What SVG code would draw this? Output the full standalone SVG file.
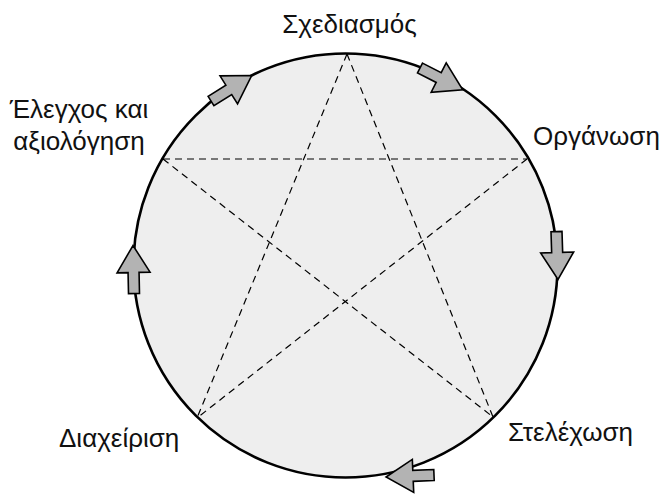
<svg xmlns="http://www.w3.org/2000/svg" width="659" height="494" viewBox="0 0 659 494">
<style>
.lbl{font-family:"Liberation Sans",Arial,sans-serif;font-size:26px;fill:#111}
.dash{stroke:#000;stroke-width:1.2;stroke-dasharray:7 5;fill:none}
.arr{fill:#b3b3b3;stroke:#000;stroke-width:1.6;stroke-linejoin:miter}
</style>
<defs>
<polygon id="ar" points="0,-5.5 21,-5.5 21,-16.5 48,0 21,16.5 21,5.5 0,5.5"/>
</defs>
<rect width="659" height="494" fill="#fff"/>
<g id="cycle">
<circle cx="345.5" cy="265.5" r="212" fill="#eeeeee" stroke="#000" stroke-width="2.6"/>
</g>
<g id="connectors">
<line class="dash" x1="347" y1="54" x2="197" y2="418"/>
<line class="dash" x1="347" y1="54" x2="493" y2="417"/>
<line class="dash" x1="163" y1="159" x2="527" y2="159"/>
<line class="dash" x1="163" y1="159" x2="493" y2="417"/>
<line class="dash" x1="527" y1="159" x2="197" y2="418"/>
<use href="#ar" class="arr" transform="translate(420,68) rotate(27.1)"/>
<use href="#ar" class="arr" transform="translate(556.5,231.5) rotate(88.2)"/>
<use href="#ar" class="arr" transform="translate(434,475) rotate(177.6)"/>
<use href="#ar" class="arr" transform="translate(134,293.5) rotate(-91.2)"/>
<use href="#ar" class="arr" transform="translate(211,101) rotate(-32.1)"/>
</g>
<g id="n-planning"><text class="lbl" x="349.5" y="33" text-anchor="middle">Σχεδιασμός</text></g>
<g id="n-organizing"><text class="lbl" x="533" y="145">Οργάνωση</text></g>
<g id="n-staffing"><text class="lbl" x="508" y="441">Στελέχωση</text></g>
<g id="n-directing"><text class="lbl" x="59" y="447">Διαχείριση</text></g>
<g id="n-controlling"><text class="lbl" x="79" y="118" text-anchor="middle">Έλεγχος και</text><text class="lbl" x="79" y="150" text-anchor="middle">αξιολόγηση</text></g>
</svg>
